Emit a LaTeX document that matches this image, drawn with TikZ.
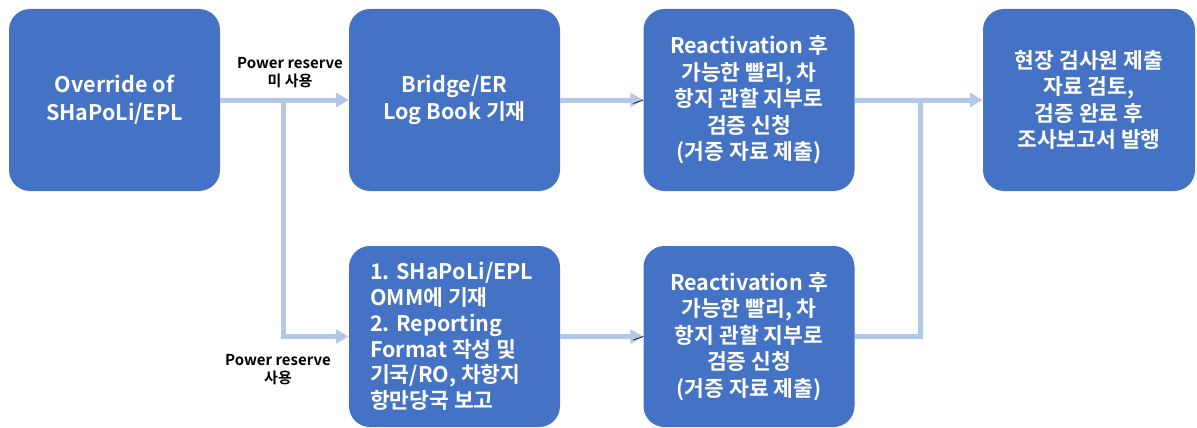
\documentclass[tikz,border=0pt]{standalone}
\usepackage{fontspec}
\setmainfont{Noto Sans CJK KR}[BoldFont={* Bold}]
\usetikzlibrary{arrows.meta}
\definecolor{boxblue}{HTML}{4472C4}
\definecolor{arrowblue}{HTML}{B4C7E7}
\tikzset{
  stepbox/.style={draw=none, fill=boxblue, rounded corners=21pt, minimum width=211pt, minimum height=182pt, inner sep=0pt, text=white, font=\bfseries\fontsize{21.5}{26.5}\selectfont, align=center},
  flow/.style={draw=arrowblue, line width=5pt, -{Triangle[length=13pt,width=14pt]}},
  plain/.style={draw=arrowblue, line width=5pt},
  tick/.style={draw=black!85, line width=0.9pt},
  lbl/.style={font=\bfseries\fontsize{15}{18}\selectfont, align=center, text=black, inner sep=0pt}
}
\begin{document}
\begin{tikzpicture}[x=1pt,y=-1pt]
\useasboundingbox (0,0) rectangle (1197,428);
\node[stepbox] (b1) at (114.5,100) {Override of\\[1.5pt]SHaPoLi/EPL};
\node[stepbox] (b2) at (454.5,100) {Bridge/ER\\Log Book 기재};
\node[stepbox] (b3) at (749,100) {Reactivation 후\\가능한 빨리, 차\\항지 관할 지부로\\검증 신청\\(거증 자료 제출)};
\node[stepbox, minimum width=212pt] (b4) at (1089,100) {현장 검사원 제출\\자료 검토,\\검증 완료 후\\조사보고서 발행};
\node[stepbox, minimum height=181pt] (b5) at (454.5,336.5) {};
\node[anchor=north west, inner sep=0pt, text=white, font=\bfseries\fontsize{21.5}{25.8}\selectfont, align=left] (t5) at (370,262) {1. SHaPoLi/EPL\\OMM에 기재\\2. Reporting\\Format 작성 및\\기국/RO, 차항지\\항만당국 보고};
\node[stepbox, minimum height=181pt] (b6) at (749,336.5) {Reactivation 후\\가능한 빨리, 차\\항지 관할 지부로\\검증 신청\\(거증 자료 제출)};
\node[lbl] (l1) at (290,73) {Power reserve\\미 사용};
\node[lbl] (l2) at (278,370) {Power reserve\\사용};
\coordinate (j1) at (283,100);
\coordinate (j2) at (920,100);
\draw[flow] (b1.east) -- (b2.west);
\draw[flow] (j1) |- (b5.west);
\draw[flow] (b2.east) -- (b3.west);
\draw[flow] (b5.east) -- (b6.west);
\draw[flow] (b3.east) -- (b4.west);
\draw[plain] (b6.east) -| (j2);
\draw[tick] (b3.west) ++(-10,3.5) coordinate (k3) -- (b3.west);
\draw[tick] (b6.west) ++(-10,3.5) coordinate (k6) -- (b6.west);
\end{tikzpicture}
\end{document}
